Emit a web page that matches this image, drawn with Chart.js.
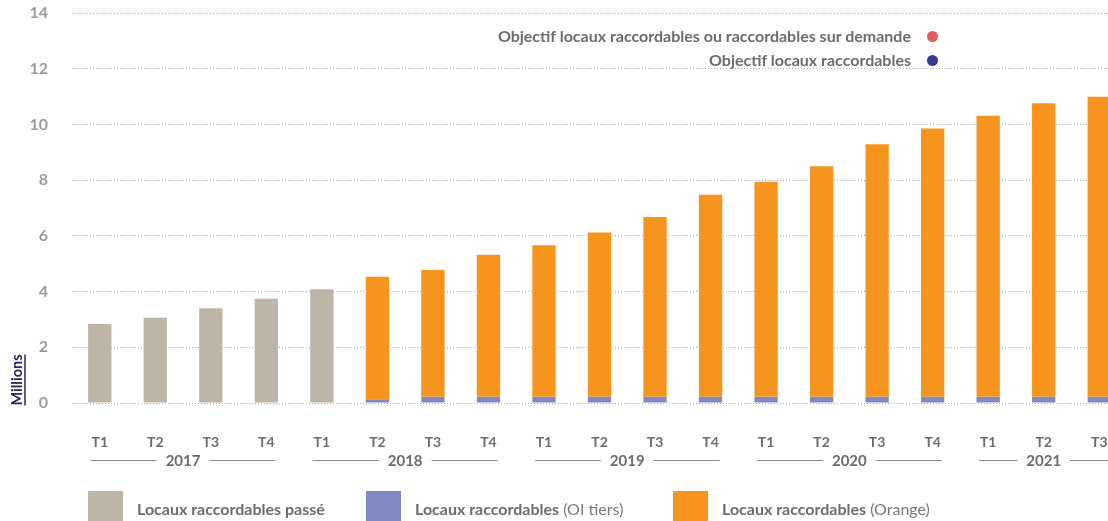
<!DOCTYPE html>
<html lang="fr">
<head>
<meta charset="utf-8">
<title>Locaux raccordables</title>
<script src="https://cdn.jsdelivr.net/npm/chart.js@4.4.1/dist/chart.umd.min.js"></script>
<style>
  html, body { margin: 0; padding: 0; background: #fff; overflow: hidden; }
  body { width: 1108px; height: 521px; position: relative; font-family: Lato, "Open Sans", sans-serif; }
  #wrap { position: absolute; left: 0; top: 0; width: 1127px; height: 521px; }
  .topleg { position: absolute; right: calc(1108px - 911px); font-weight: 700; font-size: 16px; color: #6b6b70; white-space: nowrap; }
  .dot { position: absolute; left: 927px; width: 11px; height: 11px; border-radius: 50%; }
  .leg { position: absolute; top: 491px; height: 35px; display: flex; align-items: center; font-size: 16px; color: #6b6b70; white-space: nowrap; }
  .leg .sw { width: 35px; height: 35px; margin-right: 14px; }
  .leg b { font-weight: 700; }
  .leg span.l { font-weight: 400; color: #77777c; }
</style>
</head>
<body>
<div id="wrap"><canvas id="chart" width="1127" height="521"></canvas></div>

<div class="topleg" style="top:26px">Objectif locaux raccordables ou raccordables sur demande</div>
<div class="dot" style="top:31px;background:#e35d5e"></div>
<div class="topleg" style="top:50px">Objectif locaux raccordables</div>
<div class="dot" style="top:55px;background:#3a3a94"></div>

<div class="leg" style="left:88px"><div class="sw" style="background:#bdb5a8"></div><b>Locaux raccordables passé</b></div>
<div class="leg" style="left:366px"><div class="sw" style="background:#8189c3"></div><b>Locaux raccordables</b>&nbsp;<span class="l">(OI tiers)</span></div>
<div class="leg" style="left:673px"><div class="sw" style="background:#f7941d"></div><b>Locaux raccordables</b>&nbsp;<span class="l">(Orange)</span></div>

<script>
// quarters + years
const quarters = ["T1","T2","T3","T4", "T1","T2","T3","T4", "T1","T2","T3","T4", "T1","T2","T3","T4", "T1","T2","T3"];
const years = ["2017", "2018", "2019", "2020", "2021"];
const quartersPerYear = [4, 4, 4, 4, 3];

// values in millions
const passe = [2.84, 3.06, 3.40, 3.74, 4.08, null, null, null, null, null, null, null, null, null, null, null, null, null, null];
const oiTiers = [null, null, null, null, null, 0.12, 0.22, 0.22, 0.22, 0.22, 0.22, 0.22, 0.22, 0.22, 0.22, 0.22, 0.22, 0.22, 0.22];
const orange = [null, null, null, null, null, 4.41, 4.55, 5.10, 5.44, 5.90, 6.46, 7.26, 7.72, 8.28, 9.07, 9.63, 10.09, 10.54, 10.77];

const yTicks = [0, 2, 4, 6, 8, 10, 12, 14];

const FONT = "Lato, 'Open Sans', sans-serif";

// year labels with lines under the quarters + the rotated "Millions"
const extras = {
  id: "extras",
  afterDraw(chart) {
    const ctx = chart.ctx;
    const x = chart.scales.x;
    ctx.save();
    ctx.font = "700 15px " + FONT;
    ctx.fillStyle = "#6b6b70";
    ctx.strokeStyle = "#8a8a8e";
    ctx.lineWidth = 1;
    ctx.textAlign = "center";
    ctx.textBaseline = "middle";
    let start = 0;
    const y = 460.5;
    years.forEach((yr, i) => {
      const end = start + quartersPerYear[i] - 1;
      const x0 = x.getPixelForValue(start) - 9;
      const x1 = x.getPixelForValue(end) + 9;
      const cx = (x.getPixelForValue(start) + x.getPixelForValue(end)) / 2;
      const w = ctx.measureText(yr).width;
      ctx.fillText(yr, cx, y + 1);
      ctx.beginPath();
      ctx.moveTo(x0, y); ctx.lineTo(cx - w / 2 - 9, y);
      ctx.moveTo(cx + w / 2 + 9, y); ctx.lineTo(x1, y);
      ctx.stroke();
      start = end + 1;
    });
    // "Millions"
    ctx.translate(17, 380);
    ctx.rotate(-Math.PI / 2);
    ctx.font = "700 14.5px " + FONT;
    ctx.fillStyle = "#2b2459";
    ctx.fillText("Millions", 0, 0);
    const mw = ctx.measureText("Millions").width;
    ctx.strokeStyle = "#2b2459";
    ctx.lineWidth = 1.5;
    ctx.beginPath();
    ctx.moveTo(-mw / 2, 8); ctx.lineTo(mw / 2, 8);
    ctx.stroke();
    ctx.restore();
  }
};

new Chart(document.getElementById("chart"), {
  type: "bar",
  data: {
    labels: quarters,
    datasets: [
      { label: "Locaux raccordables passé", data: passe, backgroundColor: "#bdb5a8" },
      { label: "Locaux raccordables (OI tiers)", data: oiTiers, backgroundColor: "#8189c3" },
      { label: "Locaux raccordables (Orange)", data: orange, backgroundColor: "#f7941d" }
    ]
  },
  options: {
    responsive: false,
    animation: false,
    categoryPercentage: 1,
    barPercentage: 0.42,
    layout: { padding: { top: 13, right: 0, left: 0, bottom: 0 } },
    plugins: { legend: { display: false }, tooltip: { enabled: false } },
    scales: {
      x: {
        stacked: true,
        grid: { display: false },
        border: { display: false },
        ticks: { color: "#6b6b70", font: { family: FONT, size: 14, weight: "700" }, padding: 23, maxRotation: 0, autoSkip: false },
        afterFit: (s) => { s.height = 118; s.paddingLeft = 0; s.paddingRight = 0; }
      },
      y: {
        stacked: true,
        min: 0,
        max: 14,
        afterBuildTicks: (s) => { s.ticks = yTicks.map(v => ({ value: v })); },
        grid: { color: "#a9a9ad", lineWidth: 1, drawTicks: false },
        border: { display: false, dash: [1, 2] },
        ticks: { color: "#9a9a9e", font: { family: FONT, size: 16, weight: "700" }, padding: 24 },
        afterFit: (s) => { s.width = 72; s.paddingTop = 0; s.paddingBottom = 0; }
      }
    }
  },
  plugins: [extras]
});
</script>
</body>
</html>
